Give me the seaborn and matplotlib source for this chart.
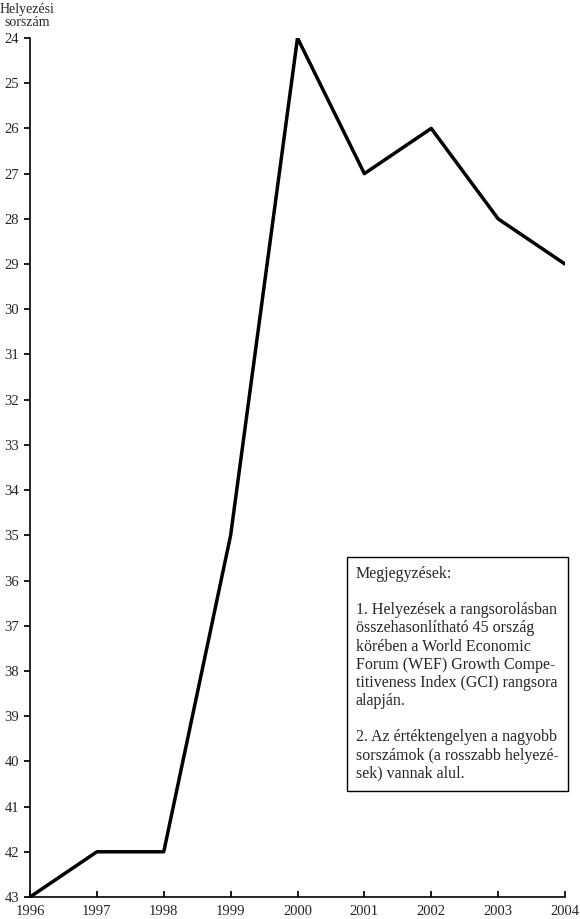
import matplotlib
matplotlib.use("Agg")
import matplotlib.pyplot as plt
import seaborn as sns

years = [1996, 1997, 1998, 1999, 2000, 2001, 2002, 2003, 2004]
ranks = [43, 42, 42, 35, 24, 27, 26, 28, 29]
y_ticks = list(range(24, 44))

note = ("Megjegyzések:\n\n"
        "1. Helyezések a rangsorolásban\n"
        "összehasonlítható 45 ország\n"
        "körében a World Economic\n"
        "Forum (WEF) Growth Compe-\n"
        "titiveness Index (GCI) rangsora\n"
        "alapján.\n\n"
        "2. Az értéktengelyen a nagyobb\n"
        "sorszámok (a rosszabb helyezé-\n"
        "sek) vannak alul.")

sns.set_theme(style="ticks")
plt.rcParams["font.family"] = ["Liberation Serif", "DejaVu Serif"]

fig = plt.figure(figsize=(5.8, 9.19), dpi=100)
ax = fig.add_axes([30 / 580, 22 / 919, 535 / 580, 859 / 919])
sns.lineplot(x=years, y=ranks, ax=ax, color="black", linewidth=2.5)

ax.set_xlim(1996, 2004)
ax.set_ylim(43, 24)
ax.set_yticks(y_ticks)
ax.set_xticks(years)
ax.tick_params(axis="y", direction="out", length=4, color="black", labelsize=10.5, pad=4)
ax.tick_params(axis="x", direction="in", length=4, color="black", labelsize=10.5, pad=6)
for s in ("top", "right"):
    ax.spines[s].set_visible(False)
for s in ("left", "bottom"):
    ax.spines[s].set_color("black")
    ax.spines[s].set_linewidth(1.2)

fig.text(27 / 580, 1 - 16 / 919, "Helyezési\nsorszám", ha="center", va="center",
         fontsize=10, linespacing=1.0)

fig.text(356 / 580, 1 - 566 / 919, note, ha="left", va="top", fontsize=11.5,
         linespacing=1.18,
         bbox=dict(boxstyle="square,pad=0.55", facecolor="white", edgecolor="black", linewidth=1))

fig.savefig("out.png", dpi=100)
